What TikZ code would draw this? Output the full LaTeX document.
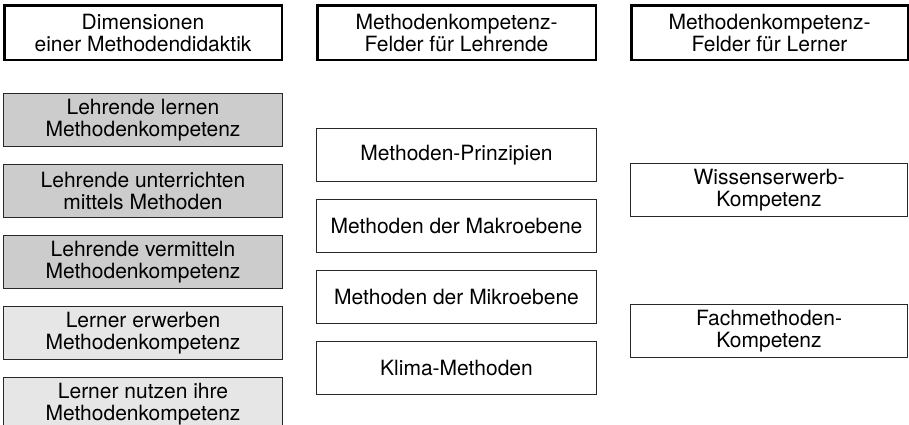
\documentclass[tikz,border=0pt]{standalone}
\usepackage{fontspec}
\setmainfont{TeX Gyre Heros}
\usetikzlibrary{positioning}
\definecolor{darkfill}{RGB}{204,204,204}
\definecolor{lightfill}{RGB}{230,230,230}
\definecolor{boxrule}{RGB}{40,40,40}
\tikzset{
  head/.style={rectangle,draw=black,line width=2.5pt,align=center,minimum height=54.5pt,inner sep=0pt,font=\fontsize{21pt}{22pt}\selectfont},
  field/.style={rectangle,draw=boxrule,line width=1pt,align=center,minimum height=53pt,inner sep=0pt,font=\fontsize{21pt}{21.5pt}\selectfont},
  dimdark/.style={field,fill=darkfill,minimum width=279pt},
  dimlight/.style={field,fill=lightfill,minimum width=279pt},
  teachfield/.style={field,fill=white,minimum width=280pt},
  learnfield/.style={field,fill=white,minimum width=277pt}
}

\begin{document}
\begin{tikzpicture}[x=1pt,y=-1pt,node distance=17pt]
  \useasboundingbox (0,0) rectangle (909,424);
  % headers
  \node[head,minimum width=277.5pt] (dimhead) at (143,32.5) {Dimensionen\\einer Methodendidaktik};
  \node[head,minimum width=278.5pt] (teachhead) at (456.5,32.5) {Methodenkompetenz-\\Felder für Lehrende};
  \node[head,minimum width=276.5pt] (learnhead) at (769.5,32.5) {Methodenkompetenz-\\Felder für Lerner};
  % dimensions
  \node[dimdark] (dlern) at (143,120) {Lehrende lernen\\Methodenkompetenz};
  \node[dimdark,below=of dlern] (dunter) {Lehrende unterrichten\\mittels Methoden};
  \node[dimdark,below=of dunter] (dverm) {Lehrende vermitteln\\Methodenkompetenz};
  \node[dimlight,below=of dverm] (derw) {Lerner erwerben\\Methodenkompetenz};
  \node[dimlight,below=of derw] (dnutz) {Lerner nutzen ihre\\Methodenkompetenz};
  % fields for teachers
  \node[teachfield] (prinz) at (456.5,155) {Methoden-Prinzipien};
  \node[teachfield,below=of prinz] (makro) {Methoden der Makroebene};
  \node[teachfield,below=of makro] (mikro) {Methoden der Mikroebene};
  \node[teachfield,below=of mikro] (klima) {Klima-Methoden};
  % fields for learners
  \node[learnfield] (wissen) at (769,190) {Wissenserwerb-\\Kompetenz};
  \node[learnfield,below=87pt of wissen] (fach) {Fachmethoden-\\Kompetenz};
\end{tikzpicture}
\end{document}
